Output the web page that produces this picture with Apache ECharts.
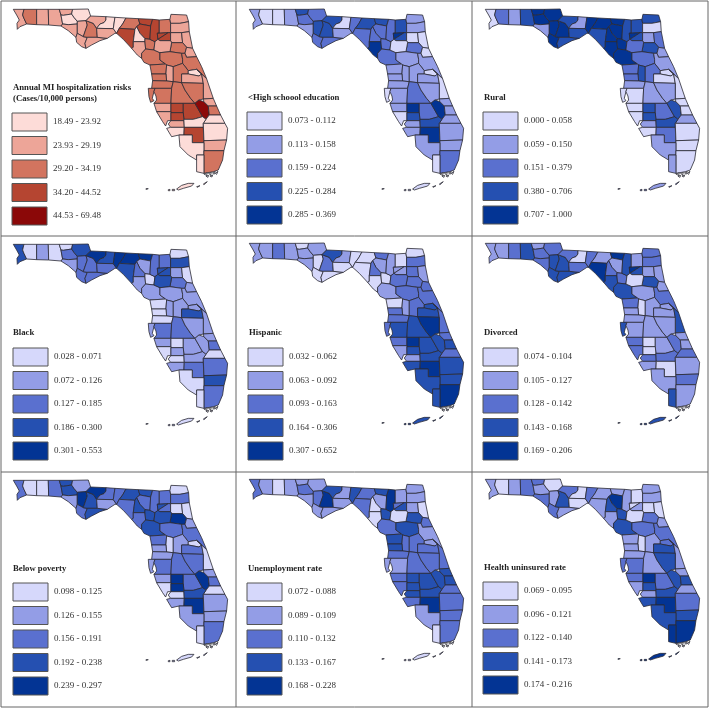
<!DOCTYPE html>
<html>
<head>
<meta charset="utf-8">
<title>Florida MI hospitalization risks</title>
<script src="https://cdn.jsdelivr.net/npm/echarts@6/dist/echarts.min.js"></script>
<style>
html, body { margin: 0; padding: 0; background: #fff; }
#chart { width: 709px; height: 708px; }
</style>
</head>
<body>
<div id="chart"></div>
<script>
// county order used by every class array below
var counties = [
  'Escambia', 'Santa Rosa', 'Okaloosa', 'Walton', 'Holmes', 'Washington', 'Bay', 'Jackson', 'Calhoun', 'Gulf',
  'Liberty', 'Franklin', 'Gadsden', 'Leon', 'Wakulla', 'Jefferson', 'Madison', 'Taylor', 'Hamilton', 'Suwannee',
  'Lafayette', 'Dixie', 'Gilchrist', 'Levy', 'Columbia', 'Baker', 'Union', 'Bradford', 'Nassau', 'Duval',
  'Clay', 'St. Johns', 'Putnam', 'Alachua', 'Flagler', 'Marion', 'Volusia', 'Citrus', 'Sumter', 'Lake',
  'Hernando', 'Pasco', 'Seminole', 'Orange', 'Brevard', 'Pinellas', 'Hillsborough', 'Polk', 'Osceola', 'Manatee',
  'Hardee', 'Highlands', 'Okeechobee', 'Indian River', 'St. Lucie', 'Martin', 'Sarasota', 'DeSoto', 'Charlotte', 'Glades',
  'Lee', 'Hendry', 'Palm Beach', 'Broward', 'Collier', 'Miami-Dade', 'Monroe'
];

// class (1-5) of each county
var miRisk = [
  2, 3, 2, 2, 2, 1, 2, 1, 2, 2,
  3, 2, 2, 1, 2, 1, 3, 4, 4, 4,
  1, 2, 3, 3, 4, 3, 4, 4, 2, 2,
  2, 2, 3, 2, 2, 3, 3, 3, 2, 3,
  3, 3, 1, 2, 2, 3, 3, 3, 3, 2,
  4, 4, 5, 2, 3, 1, 2, 4, 2, 1,
  1, 4, 1, 2, 1, 3, 1
];
var highSchool = [
  2, 1, 1, 2, 4, 3, 2, 3, 4, 3,
  4, 3, 4, 1, 2, 3, 4, 3, 4, 3,
  3, 5, 3, 3, 3, 4, 5, 4, 2, 2,
  1, 1, 3, 1, 1, 2, 2, 2, 2, 2,
  2, 2, 1, 2, 1, 1, 2, 3, 2, 2,
  5, 3, 5, 2, 2, 2, 1, 4, 2, 4,
  2, 5, 2, 2, 2, 3, 1
];
var rural = [
  1, 3, 2, 4, 5, 5, 2, 5, 5, 5,
  5, 4, 4, 2, 4, 5, 5, 4, 5, 5,
  5, 5, 5, 5, 4, 4, 5, 4, 4, 1,
  2, 3, 4, 3, 2, 3, 2, 3, 4, 3,
  3, 2, 1, 1, 1, 1, 1, 2, 2, 1,
  4, 3, 4, 1, 1, 2, 1, 4, 2, 4,
  1, 3, 1, 1, 2, 1, 2
];
var black = [
  4, 1, 2, 1, 1, 3, 2, 4, 3, 3,
  3, 3, 5, 4, 3, 5, 5, 4, 5, 2,
  3, 2, 1, 2, 3, 3, 4, 4, 1, 4,
  2, 1, 3, 4, 2, 2, 2, 1, 2, 2,
  1, 1, 2, 4, 2, 2, 3, 3, 2, 2,
  1, 2, 2, 2, 3, 1, 1, 2, 1, 2,
  2, 3, 3, 4, 1, 3, 1
];
var hispanic = [
  2, 2, 3, 2, 1, 2, 2, 2, 1, 1,
  3, 1, 4, 2, 1, 1, 1, 1, 3, 2,
  3, 1, 1, 2, 2, 1, 2, 2, 1, 3,
  3, 2, 3, 3, 3, 3, 3, 1, 2, 3,
  3, 3, 4, 4, 3, 3, 4, 4, 5, 3,
  5, 4, 4, 3, 4, 3, 2, 4, 2, 4,
  4, 5, 4, 4, 4, 5, 4
];
var divorced = [
  2, 2, 3, 4, 2, 3, 3, 3, 4, 4,
  4, 4, 3, 1, 3, 3, 2, 5, 5, 2,
  3, 4, 3, 4, 4, 2, 5, 4, 3, 3,
  2, 2, 4, 1, 2, 2, 3, 3, 1, 2,
  2, 2, 2, 2, 4, 4, 2, 2, 2, 3,
  1, 2, 3, 2, 2, 3, 3, 1, 3, 3,
  2, 1, 2, 3, 2, 2, 4
];
var poverty = [
  3, 1, 1, 3, 4, 4, 2, 2, 5, 3,
  4, 4, 5, 3, 2, 3, 4, 3, 4, 3,
  4, 3, 4, 4, 3, 3, 4, 3, 1, 3,
  1, 1, 5, 4, 2, 3, 3, 3, 1, 2,
  2, 2, 1, 3, 1, 2, 3, 3, 3, 2,
  5, 3, 5, 2, 3, 1, 1, 5, 1, 4,
  2, 5, 2, 2, 2, 3, 1
];
var unemployment = [
  3, 2, 1, 2, 2, 3, 2, 2, 3, 2,
  5, 2, 4, 2, 2, 4, 3, 3, 4, 2,
  1, 1, 4, 3, 5, 2, 3, 4, 2, 2,
  2, 1, 4, 1, 3, 4, 2, 4, 3, 3,
  4, 3, 2, 3, 3, 2, 2, 3, 3, 3,
  4, 4, 4, 4, 4, 3, 3, 4, 4, 4,
  3, 5, 3, 3, 2, 3, 1
];
var uninsured = [
  2, 1, 2, 3, 3, 2, 3, 1, 2, 3,
  4, 2, 3, 1, 1, 3, 2, 2, 2, 5,
  4, 2, 4, 4, 2, 1, 1, 2, 2, 2,
  1, 1, 3, 1, 2, 3, 3, 2, 1, 2,
  2, 2, 3, 4, 2, 3, 3, 2, 4, 3,
  5, 3, 4, 2, 4, 2, 2, 4, 2, 4,
  4, 5, 3, 4, 4, 5, 5
];

// legend labels
var miLabels = ['18.49 - 23.92', '23.93 - 29.19', '29.20 - 34.19', '34.20 - 44.52', '44.53 - 69.48'];
var highSchoolLabels = ['0.073 - 0.112', '0.113 - 0.158', '0.159 - 0.224', '0.225 - 0.284', '0.285 - 0.369'];
var ruralLabels = ['0.000 - 0.058', '0.059 - 0.150', '0.151 - 0.379', '0.380 - 0.706', '0.707 - 1.000'];
var blackLabels = ['0.028 - 0.071', '0.072 - 0.126', '0.127 - 0.185', '0.186 - 0.300', '0.301 - 0.553'];
var hispanicLabels = ['0.032 - 0.062', '0.063 - 0.092', '0.093 - 0.163', '0.164 - 0.306', '0.307 - 0.652'];
var divorcedLabels = ['0.074 - 0.104', '0.105 - 0.127', '0.128 - 0.142', '0.143 - 0.168', '0.169 - 0.206'];
var povertyLabels = ['0.098 - 0.125', '0.126 - 0.155', '0.156 - 0.191', '0.192 - 0.238', '0.239 - 0.297'];
var unemploymentLabels = ['0.072 - 0.088', '0.089 - 0.109', '0.110 - 0.132', '0.133 - 0.167', '0.168 - 0.228'];
var uninsuredLabels = ['0.069 - 0.095', '0.096 - 0.121', '0.122 - 0.140', '0.141 - 0.173', '0.174 - 0.216'];

var reds = ['#fddcd8', '#eda598', '#d2745f', '#b54531', '#8b0808'];
var blues = ['#d6d8fb', '#939de6', '#5a70cf', '#2550b1', '#033494'];

// county outlines
var shapes = {
  'Escambia': [[[40,28],[72,28],[68,45],[72,55],[80,72],[60,80],[52,88],[51,70],[58,60],[50,45]]],
  'Santa Rosa': [[[72,28],[110,28],[110,74],[80,72],[72,55],[68,45]]],
  'Okaloosa': [[[110,28],[145,28],[146,75],[110,74]]],
  'Walton': [[[145,28],[178,28],[183,45],[188,72],[183,78],[146,75]]],
  'Holmes': [[[178,28],[218,28],[215,42],[190,46],[183,45]]],
  'Washington': [[[183,45],[190,46],[215,42],[222,52],[232,64],[232,72],[205,74],[188,72]]],
  'Bay': [[[188,72],[205,74],[232,72],[232,100],[228,112],[205,92],[183,78]]],
  'Jackson': [[[218,28],[265,27],[272,48],[258,62],[232,64],[222,52],[215,42]]],
  'Calhoun': [[[232,64],[258,62],[262,75],[250,110],[232,100]]],
  'Gulf': [[[232,100],[250,110],[262,112],[255,130],[258,145],[245,140],[230,127],[228,112]]],
  'Liberty': [[[258,62],[280,70],[290,85],[292,112],[262,112],[250,110],[262,75]]],
  'Franklin': [[[262,112],[292,112],[322,115],[300,122],[275,135],[258,145],[255,130]]],
  'Gadsden': [[[258,62],[272,48],[318,50],[318,60],[312,68],[300,72],[290,85],[280,70]]],
  'Leon': [[[318,50],[345,52],[340,86],[290,85],[300,72],[312,68],[318,60]]],
  'Wakulla': [[[290,85],[340,86],[350,100],[345,100],[322,115],[292,112]]],
  'Jefferson': [[[345,52],[378,54],[368,72],[358,85],[350,100],[340,86]]],
  'Madison': [[[378,54],[415,56],[420,72],[410,80],[405,88],[358,85],[368,72]]],
  'Taylor': [[[358,85],[405,88],[400,125],[400,142],[395,145],[370,118],[350,100]]],
  'Hamilton': [[[415,56],[458,58],[452,78],[420,72]]],
  'Suwannee': [[[420,72],[452,78],[450,118],[435,116],[420,100],[410,80]]],
  'Lafayette': [[[405,88],[410,80],[420,100],[435,116],[435,125],[400,125]]],
  'Dixie': [[[400,125],[435,125],[437,147],[425,160],[425,175],[412,165],[395,145],[400,142]]],
  'Gilchrist': [[[435,116],[450,118],[465,125],[462,150],[437,147],[435,125]]],
  'Levy': [[[437,147],[462,150],[480,158],[480,180],[497,192],[450,195],[432,187],[425,175],[425,160]]],
  'Columbia': [[[458,58],[478,60],[478,100],[472,100],[474,118],[465,125],[450,118],[452,78]]],
  'Baker': [[[478,60],[510,58],[512,70],[512,98],[505,98],[472,100],[478,100]]],
  'Union': [[[472,100],[505,98],[474,118]]],
  'Bradford': [[[505,98],[512,98],[512,122],[480,122],[474,118]]],
  'Nassau': [[[510,58],[513,43],[560,45],[566,65],[540,70],[512,70]]],
  'Duval': [[[512,70],[540,70],[566,65],[568,95],[545,98],[512,98]]],
  'Clay': [[[512,98],[545,98],[548,128],[515,128],[512,122]]],
  'St. Johns': [[[545,98],[568,95],[578,145],[560,142],[548,128]]],
  'Putnam': [[[515,128],[548,128],[560,142],[555,160],[545,160],[510,155]]],
  'Alachua': [[[465,125],[474,118],[480,122],[512,122],[515,128],[510,155],[480,158],[462,150]]],
  'Flagler': [[[560,142],[578,145],[590,170],[560,172],[555,160]]],
  'Marion': [[[480,158],[510,155],[545,160],[548,178],[548,190],[520,200],[500,195],[497,192],[480,180]]],
  'Volusia': [[[545,160],[555,160],[560,172],[590,170],[605,200],[620,236],[590,208],[565,212],[548,190],[548,178]]],
  'Citrus': [[[450,195],[497,192],[500,195],[498,222],[455,222]]],
  'Sumter': [[[500,195],[520,200],[520,245],[500,243],[498,222]]],
  'Lake': [[[520,200],[548,190],[565,212],[565,222],[545,222],[545,248],[520,245]]],
  'Hernando': [[[455,222],[498,222],[500,243],[458,242]]],
  'Pasco': [[[458,242],[500,243],[520,245],[515,265],[465,265],[455,265]]],
  'Seminole': [[[565,212],[590,208],[605,222],[597,228],[565,222]]],
  'Orange': [[[545,222],[565,222],[597,228],[605,222],[610,250],[545,248]]],
  'Brevard': [[[590,208],[620,236],[640,295],[610,297],[610,250],[605,222]]],
  'Pinellas': [[[445,265],[465,265],[462,275],[457,295],[462,302],[452,307],[447,290]]],
  'Hillsborough': [[[465,265],[515,265],[513,310],[462,310],[470,300],[468,288],[462,275]]],
  'Polk': [[[515,265],[520,245],[545,248],[555,270],[572,295],[585,310],[550,310],[513,310]]],
  'Osceola': [[[545,248],[610,250],[610,297],[597,300],[585,310],[572,295],[555,270]]],
  'Manatee': [[[462,310],[513,310],[513,335],[470,335]]],
  'Hardee': [[[513,310],[550,310],[550,338],[513,338]]],
  'Highlands': [[[550,310],[585,310],[605,345],[608,350],[580,358],[552,358],[550,338]]],
  'Okeechobee': [[[585,310],[597,300],[612,305],[625,318],[628,345],[618,358],[608,350],[605,345]]],
  'Indian River': [[[610,297],[640,295],[650,318],[625,318],[612,305]]],
  'St. Lucie': [[[625,318],[650,318],[662,345],[628,345]]],
  'Martin': [[[628,345],[662,345],[675,370],[610,370],[618,358]]],
  'Sarasota': [[[470,335],[513,335],[513,362],[503,362],[497,378],[488,365]]],
  'DeSoto': [[[513,338],[550,338],[552,362],[513,362]]],
  'Charlotte': [[[513,362],[552,362],[553,382],[512,382],[505,372]]],
  'Glades': [[[552,358],[580,358],[608,350],[618,358],[610,370],[610,382],[553,382],[552,362]]],
  'Lee': [[[500,385],[512,382],[553,382],[552,405],[537,405],[515,410]]],
  'Hendry': [[[553,382],[610,382],[612,428],[577,428],[577,405],[552,405]]],
  'Palm Beach': [[[610,370],[675,370],[683,385],[680,420],[612,422]]],
  'Broward': [[[612,422],[680,420],[672,452],[612,452]]],
  'Collier': [[[537,405],[577,405],[577,428],[612,428],[612,465],[590,465],[590,480],[565,465],[540,440]]],
  'Miami-Dade': [[[612,452],[672,452],[668,480],[655,510],[640,515],[612,520]]],
  'Monroe': [[[590,465],[612,465],[612,520],[590,515],[590,480]]]
};
var monroeKeys = [
  [[530,567],[545,556],[565,550],[582,550],[575,558],[550,565],[535,570]],
  [[590,560],[600,557],[603,558],[592,562]],
  [[610,552],[622,545],[624,547],[612,554]],
  [[505,569],[510,568],[510,572],[505,572]],
  [[517,568],[524,568],[524,572],[517,572]],
  [[438,566],[445,566],[445,568],[438,568]]
];
// small islands in the bay below the mainland, left without a class
var bayIslands = [
  [[612,522],[622,518],[620,526]], [[626,520],[634,517],[632,525]], [[638,518],[646,515],[642,523]],
  [[618,528],[626,526],[624,532]], [[630,528],[638,525],[636,531]], [[646,520],[654,514],[650,523]]
];

var features = counties.map(function (name) {
  var polys = shapes[name].map(function (ring) { return [ring]; });
  if (name === 'Monroe') {
    monroeKeys.forEach(function (ring) { polys.push([ring]); });
  }
  return { type: 'Feature', properties: { name: name }, geometry: { type: 'MultiPolygon', coordinates: polys } };
});
features.push({
  type: 'Feature',
  properties: { name: 'Bay islands' },
  geometry: { type: 'MultiPolygon', coordinates: bayIslands.map(function (ring) { return [ring]; }) }
});

var panels = [
  { title: 'Annual MI hospitalization risks\n(Cases/10,000 persons)', classes: miRisk, labels: miLabels, colors: reds, x: 0, y: 0, mapTop: 9, legendX: 12, legendY: 113, titleX: 13, titleY: 83 },
  { title: '<High schoool education', classes: highSchool, labels: highSchoolLabels, colors: blues, x: 236, y: 0, mapTop: 9, legendX: 11, legendY: 112, titleX: 12, titleY: 92.5 },
  { title: 'Rural', classes: rural, labels: ruralLabels, colors: blues, x: 472, y: 0, mapTop: 9, legendX: 11, legendY: 112, titleX: 12, titleY: 92.5 },
  { title: 'Black', classes: black, labels: blackLabels, colors: blues, x: 0, y: 236, mapTop: 8, legendX: 13, legendY: 112, titleX: 13, titleY: 92 },
  { title: 'Hispanic', classes: hispanic, labels: hispanicLabels, colors: blues, x: 236, y: 236, mapTop: 7, legendX: 12, legendY: 112, titleX: 13, titleY: 92 },
  { title: 'Divorced', classes: divorced, labels: divorcedLabels, colors: blues, x: 472, y: 236, mapTop: 7, legendX: 11, legendY: 112, titleX: 12, titleY: 91.8 },
  { title: 'Below poverty', classes: poverty, labels: povertyLabels, colors: blues, x: 0, y: 472, mapTop: 8, legendX: 13, legendY: 111, titleX: 13, titleY: 91.8 },
  { title: 'Unemployment rate', classes: unemployment, labels: unemploymentLabels, colors: blues, x: 236, y: 472, mapTop: 7, legendX: 11, legendY: 111, titleX: 12, titleY: 91.5 },
  { title: 'Health uninsured rate', classes: uninsured, labels: uninsuredLabels, colors: blues, x: 472, y: 472, mapTop: 7, legendX: 11, legendY: 110, titleX: 12, titleY: 90.8 }
];

var swatchW = 35, swatchH = 18, swatchGap = 5.5;
var serifFont = '"Liberation Serif", "Times New Roman", serif';
var flat = { project: function (p) { return p; }, unproject: function (p) { return p; } };

var titles = [], series = [], visualMaps = [], graphics = [];

// panel frames
[1, 236, 472, 708].forEach(function (x) {
  graphics.push({ type: 'line', shape: { x1: x, y1: 1, x2: x, y2: 707 }, style: { stroke: '#666', lineWidth: 1 } });
});
[1, 236, 472, 707].forEach(function (y) {
  graphics.push({ type: 'line', shape: { x1: 1, y1: y, x2: 708, y2: y }, style: { stroke: '#666', lineWidth: 1 } });
});

panels.forEach(function (p, idx) {
  // map series sharing one map name get merged, so each panel has its own
  var mapName = 'florida' + idx;
  echarts.registerMap(mapName, { type: 'FeatureCollection', features: features });
  titles.push({
    text: p.title,
    left: p.x + p.titleX,
    top: p.y + p.titleY,
    padding: 0,
    textStyle: { fontFamily: serifFont, fontSize: 8.7, fontWeight: 'bold', color: '#222', lineHeight: 10.5 }
  });
  series.push({
    type: 'map',
    map: mapName,
    projection: flat,
    left: p.x + 13.3,
    top: p.y + p.mapTop,
    width: 214.3,
    height: 181.7,
    silent: true,
    selectedMode: false,
    label: { show: false },
    itemStyle: { areaColor: '#fff', borderColor: '#2a2a33', borderWidth: 0.8 },
    emphasis: { disabled: true },
    data: counties.map(function (name, i) { return { name: name, value: p.classes[i] }; })
  });
  visualMaps.push({
    type: 'piecewise',
    seriesIndex: idx,
    left: p.x + p.legendX,
    top: p.y + p.legendY,
    padding: 0,
    inverse: true,
    orient: 'vertical',
    align: 'left',
    itemWidth: swatchW,
    itemHeight: swatchH,
    itemGap: swatchGap,
    itemSymbol: 'rect',
    textGap: 6,
    hoverLink: false,
    selectedMode: false,
    textStyle: { fontFamily: serifFont, fontSize: 9, color: '#333' },
    pieces: p.labels.map(function (label, i) {
      return { value: i + 1, label: label, color: p.colors[i] };
    })
  });
  // swatch outlines, visualMap cannot stroke its own symbols
  p.labels.forEach(function (label, i) {
    graphics.push({
      type: 'rect',
      z: 100,
      shape: { x: p.x + p.legendX, y: p.y + p.legendY + i * (swatchH + swatchGap), width: swatchW, height: swatchH },
      style: { fill: null, stroke: '#555', lineWidth: 1 }
    });
  });
});

var myChart = echarts.init(document.getElementById('chart'), null, { renderer: 'canvas' });
myChart.setOption({
  animation: false,
  backgroundColor: '#fff',
  title: titles,
  visualMap: visualMaps,
  series: series,
  graphic: graphics
});
</script>
</body>
</html>
